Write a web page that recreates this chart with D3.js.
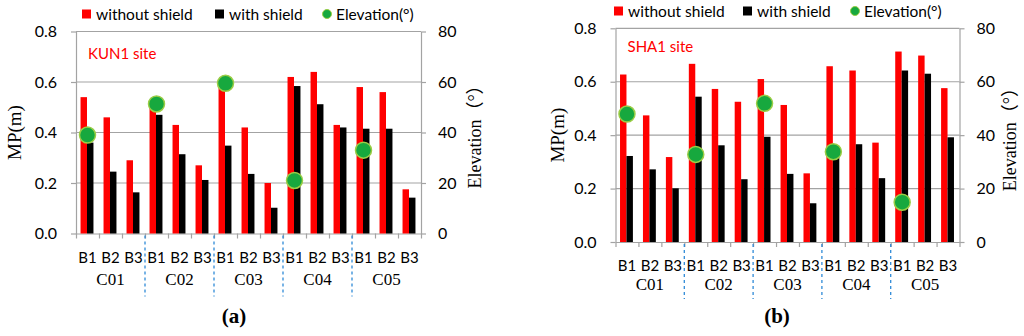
<!DOCTYPE html>
<html>
<head>
<meta charset="utf-8">
<script src="https://cdn.jsdelivr.net/npm/d3@7"></script>
<style>
  body { margin: 0; background: #fff; }
  text { font-family: Lato, "Open Sans", sans-serif; fill: #000; }
  .serif { font-family: "Liberation Serif", "Times New Roman", "Noto Sans CJK SC", serif; }
</style>
</head>
<body>
<svg width="1024" height="336"></svg>
<script>
// categories
const groups = ["C01", "C02", "C03", "C04", "C05"];
const stations = ["B1", "B2", "B3"];
const mpTicks = [0, 0.2, 0.4, 0.6, 0.8];
const elevTicks = [0, 20, 40, 60, 80];

// (a) KUN1 site, MP in metres, order C01 B1..B3, C02 B1..B3, ...
const kunWithout = [0.54, 0.46, 0.29, 0.50, 0.43, 0.27, 0.58, 0.42, 0.20, 0.62, 0.64, 0.43, 0.58, 0.56, 0.175];
const kunWith = [0.36, 0.245, 0.163, 0.47, 0.314, 0.212, 0.348, 0.236, 0.102, 0.584, 0.512, 0.42, 0.415, 0.415, 0.142];
// elevation of the B1 station of each group (deg)
const kunElevation = [39, 51.3, 59.5, 21, 33];

// (b) SHA1 site
const shaWithout = [0.627, 0.474, 0.318, 0.667, 0.573, 0.525, 0.61, 0.513, 0.257, 0.658, 0.642, 0.372, 0.713, 0.698, 0.576];
const shaWith = [0.322, 0.272, 0.201, 0.544, 0.362, 0.235, 0.394, 0.255, 0.145, 0.33, 0.366, 0.239, 0.642, 0.63, 0.392];
const shaElevation = [47.9, 32.8, 51.9, 33.8, 14.9];

const svg = d3.select("svg");
const gridColor = "#a3a3a3";

function drawPanel(o) {
  const g = svg.append("g");
  const cats = groups.flatMap(gr => stations.map(s => gr + "-" + s));

  const x = d3.scaleBand().domain(cats).range([o.left, o.right]);
  const sub = d3.scaleBand().domain(["without", "with"])
    .range([0, x.bandwidth()]).paddingOuter(0.78).align(0.45);
  const xi = d3.scaleLinear().domain([0, cats.length]).range([o.left, o.right]);
  const y = d3.scaleLinear().domain([0, 0.8]).range([o.bottom, o.top]);
  const y2 = d3.scaleLinear().domain([0, 80]).range([o.bottom, o.top]);

  // gridlines
  g.selectAll(".grid").data(mpTicks.slice(1)).join("line")
    .attr("x1", o.left).attr("x2", o.right)
    .attr("y1", d => y(d)).attr("y2", d => y(d))
    .attr("stroke", gridColor).attr("stroke-width", 1.2);

  // axes
  const axL = g.append("g").attr("transform", `translate(${o.left},0)`)
    .call(d3.axisLeft(y).tickValues(mpTicks).tickFormat(d3.format(".1f")).tickSize(5).tickSizeOuter(0).tickPadding(14));
  const axR = g.append("g").attr("transform", `translate(${o.right},0)`)
    .call(d3.axisRight(y2).tickValues(elevTicks).tickSize(5).tickSizeOuter(0).tickPadding(12));
  const axB = g.append("g").attr("transform", `translate(0,${o.bottom})`)
    .call(d3.axisBottom(xi).tickValues(d3.range(cats.length + 1)).tickFormat("").tickSize(5).tickSizeOuter(0));
  [axL, axR, axB].forEach(a => {
    a.select(".domain").attr("stroke", gridColor).attr("stroke-width", 1.2);
    a.selectAll(".tick line").attr("stroke", gridColor).attr("stroke-width", 1.2);
    a.selectAll(".tick text").attr("font-family", "Lato, sans-serif").attr("font-size", 16).attr("fill", "#000");
  });

  // bars
  const rows = cats.map((c, i) => ({ c, without: o.without[i], with: o.with[i] }));
  g.selectAll(".bw").data(rows).join("rect")
    .attr("x", d => x(d.c) + sub("without")).attr("width", sub.bandwidth())
    .attr("y", d => y(d.without)).attr("height", d => y(0) - y(d.without))
    .attr("fill", "#ff0000");
  g.selectAll(".bb").data(rows).join("rect")
    .attr("x", d => x(d.c) + sub("with")).attr("width", sub.bandwidth())
    .attr("y", d => y(d.with)).attr("height", d => y(0) - y(d.with))
    .attr("fill", "#000");

  // elevation dots
  g.selectAll(".dot").data(groups).join("circle")
    .attr("cx", (d) => x(d + "-B1") + x.bandwidth() / 2)
    .attr("cy", (d, i) => y2(o.elev[i]))
    .attr("r", 8)
    .attr("fill", "#17a83e").attr("stroke", "#9acd45").attr("stroke-width", 1.5);

  // station labels
  g.selectAll(".st").data(cats).join("text")
    .attr("x", d => x(d) + x.bandwidth() / 2).attr("y", o.bottom + o.stY)
    .attr("text-anchor", "middle").attr("font-size", 15)
    .text(d => d.split("-")[1]);
  // group labels
  g.selectAll(".gr").data(groups).join("text").attr("class", "serif")
    .attr("x", (d, i) => xi(i * 3 + 1.5)).attr("y", o.bottom + o.grY)
    .attr("text-anchor", "middle").attr("font-size", 17)
    .text(d => d);
  // dashed separators
  g.selectAll(".sep").data(d3.range(1, groups.length)).join("line")
    .attr("x1", d => xi(d * 3)).attr("x2", d => xi(d * 3))
    .attr("y1", o.bottom + 2).attr("y2", o.bottom + o.sepLen)
    .attr("stroke", "#2f8ad8").attr("stroke-width", 1.3).attr("stroke-dasharray", "3,3");

  // site label
  g.append("text").attr("x", o.left + o.siteDx).attr("y", o.siteY)
    .attr("font-size", 15).style("fill", "#ff0000").text(o.site);

  // axis titles
  g.append("text").attr("class", "serif")
    .attr("transform", `translate(${o.left + o.mpDx},${(o.top + o.bottom) / 2}) rotate(-90)`)
    .attr("text-anchor", "middle").attr("font-size", 19).text("MP(m)");
  g.append("text").attr("class", "serif")
    .attr("transform", `translate(${o.right + o.elDx},${(o.top + o.bottom) / 2}) rotate(-90)`)
    .attr("text-anchor", "middle").attr("font-size", 18).text("Elevation（°）");

  // legend
  const lg = g.append("g").attr("transform", `translate(0,${o.legY})`);
  lg.append("rect").attr("x", o.legX[0]).attr("y", -4.5).attr("width", 9).attr("height", 9).attr("fill", "#ff0000");
  lg.append("text").attr("x", o.legX[0] + 14).attr("y", 5.5).attr("font-size", 15.5).text("without shield");
  lg.append("rect").attr("x", o.legX[1]).attr("y", -4.5).attr("width", 9).attr("height", 9).attr("fill", "#000");
  lg.append("text").attr("x", o.legX[1] + 14).attr("y", 5.5).attr("font-size", 15.5).text("with shield");
  lg.append("circle").attr("cx", o.legX[2]).attr("cy", 0).attr("r", 4.5)
    .attr("fill", "#17a83e").attr("stroke", "#9acd45").attr("stroke-width", 1);
  lg.append("text").attr("x", o.legX[2] + 9).attr("y", 5.5).attr("font-size", 15.5).text("Elevation(°)");

  // panel letter
  g.append("text").attr("class", "serif").attr("x", o.letterX).attr("y", 323)
    .attr("text-anchor", "middle").attr("font-size", 21).attr("font-weight", "bold")
    .text(o.letter);
}

drawPanel({
  left: 76, right: 421, top: 31.5, bottom: 233.5,
  without: kunWithout, with: kunWith, elev: kunElevation,
  site: "KUN1 site", siteDx: 12, siteY: 59,
  stY: 29, grY: 51, sepLen: 63,
  mpDx: -55, elDx: 60,
  legY: 14, legX: [82, 215, 327],
  letter: "(a)", letterX: 234
});
drawPanel({
  left: 615.5, right: 959.5, top: 28.3, bottom: 242,
  without: shaWithout, with: shaWith, elev: shaElevation,
  site: "SHA1 site", siteDx: 12, siteY: 52,
  stY: 29, grY: 48, sepLen: 57,
  mpDx: -52, elDx: 56,
  legY: 11, legX: [614, 743, 855],
  letter: "(b)", letterX: 777
});
</script>
</body>
</html>
